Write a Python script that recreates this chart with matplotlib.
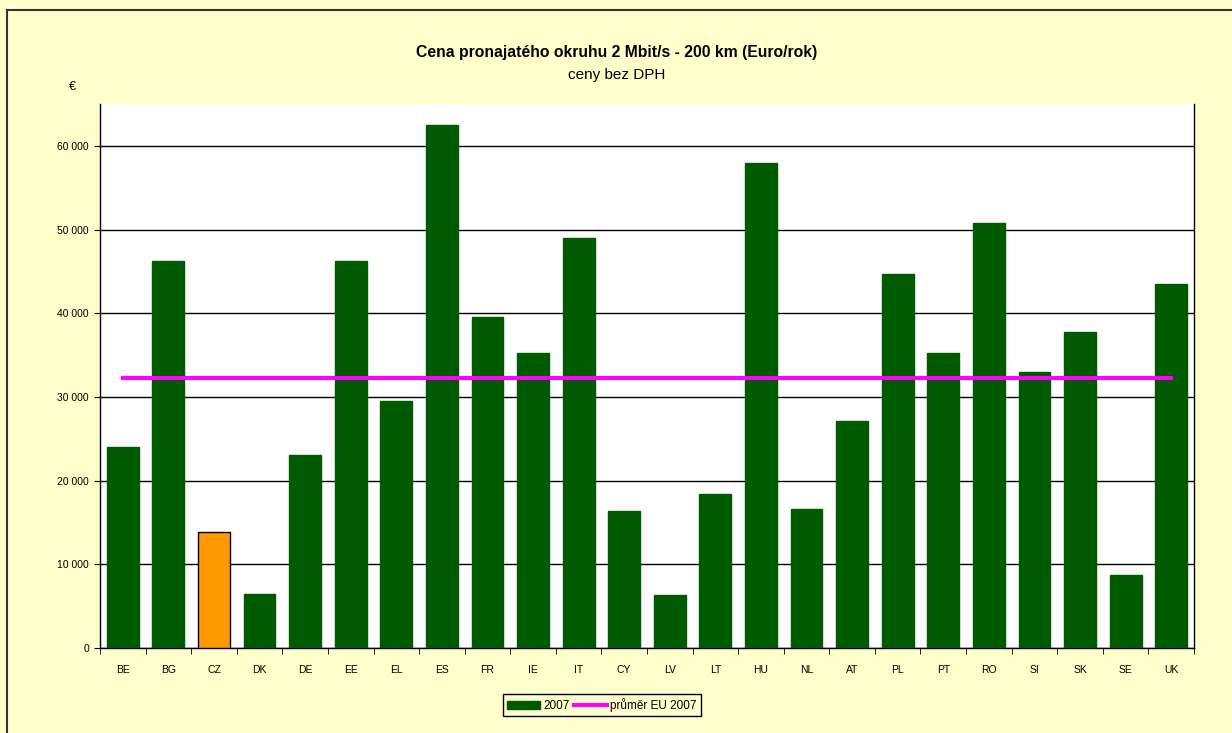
import numpy as np
import matplotlib.pyplot as plt
from matplotlib.patches import Rectangle
from matplotlib.ticker import FuncFormatter, MultipleLocator

plt.rcParams['font.family'] = ['Liberation Sans', 'DejaVu Sans']

# Data
zeme = ['BE', 'BG', 'CZ', 'DK', 'DE', 'EE', 'EL', 'ES', 'FR', 'IE', 'IT', 'CY',
        'LV', 'LT', 'HU', 'NL', 'AT', 'PL', 'PT', 'RO', 'SI', 'SK', 'SE', 'UK']
ceny_2007 = [24050, 46200, 13900, 6400, 23100, 46300, 29550, 62550, 39500, 35300,
             49000, 16350, 6300, 18400, 58000, 16550, 27100, 44700, 35200, 50800,
             33000, 37700, 8700, 43550]
prumer_eu = 32250

zelena = '#005A00'
oranzova = '#FF9900'

fig = plt.figure(figsize=(12.32, 7.33), dpi=100)
fig.patch.set_facecolor('#FFFFCC')
fig.patches.append(Rectangle((7 / 1232, -0.05), 1.2, 1 - 10 / 733 + 0.05,
                             transform=fig.transFigure, fill=False,
                             edgecolor='#333333', linewidth=1.5))

ax = fig.add_axes([100 / 1232, 1 - 648 / 733, 1094 / 1232, 544 / 733])
ax.set_facecolor('white')

x = np.arange(len(zeme))
barvy = [oranzova if z == 'CZ' else zelena for z in zeme]
hrany = ['black' if z == 'CZ' else zelena for z in zeme]
sloupce = ax.bar(x, ceny_2007, width=0.7, color=barvy, edgecolor=hrany, linewidth=1,
                 zorder=3, label='2007')
cara, = ax.plot(x, [prumer_eu] * len(zeme), color='#FF00FF', linewidth=3, zorder=4,
                label='průměr EU 2007')

ax.set_xlim(-0.5, len(zeme) - 0.5)
ax.set_ylim(0, 65000)
ax.yaxis.set_major_locator(MultipleLocator(10000))
ax.yaxis.set_major_formatter(FuncFormatter(lambda v, p: f'{int(v):,}'.replace(',', ' ')))
ax.grid(axis='y', color='black', linewidth=1, zorder=1)

ax.set_xticks(x)
ax.set_xticklabels(zeme)
ax.set_xticks(np.arange(-0.5, len(zeme)), minor=True)
ax.tick_params(axis='x', which='major', length=0, pad=12, labelsize=7.5)
ax.tick_params(axis='x', which='minor', length=4, direction='out', color='black')
ax.tick_params(axis='y', length=4, labelsize=7.5, pad=4)

for s in ['left', 'bottom', 'right']:
    ax.spines[s].set_color('black')
    ax.spines[s].set_linewidth(1)
ax.spines['top'].set_visible(False)

fig.text(617 / 1232, 1 - 53 / 733, 'Cena pronajatého okruhu 2 Mbit/s - 200 km (Euro/rok)',
         ha='center', va='center', fontsize=11.3, fontweight='bold')
fig.text(617 / 1232, 1 - 75 / 733, 'ceny bez DPH', ha='center', va='center', fontsize=11)
fig.text(72 / 1232, 1 - 87 / 733, '€', ha='center', va='center', fontsize=9)

leg = fig.legend([sloupce, cara], ['2007', 'průměr EU 2007'], loc='center',
                 bbox_to_anchor=(602 / 1232, 1 - 705 / 733), ncol=2,
                 fontsize=8.5, frameon=True, fancybox=False, edgecolor='black',
                 facecolor='#FFFFCC', framealpha=1, handlelength=2.8,
                 columnspacing=0.3, handletextpad=0.3, borderpad=0.35)
leg.get_frame().set_linewidth(1)

fig.savefig('out.png', dpi=100, facecolor=fig.get_facecolor())
